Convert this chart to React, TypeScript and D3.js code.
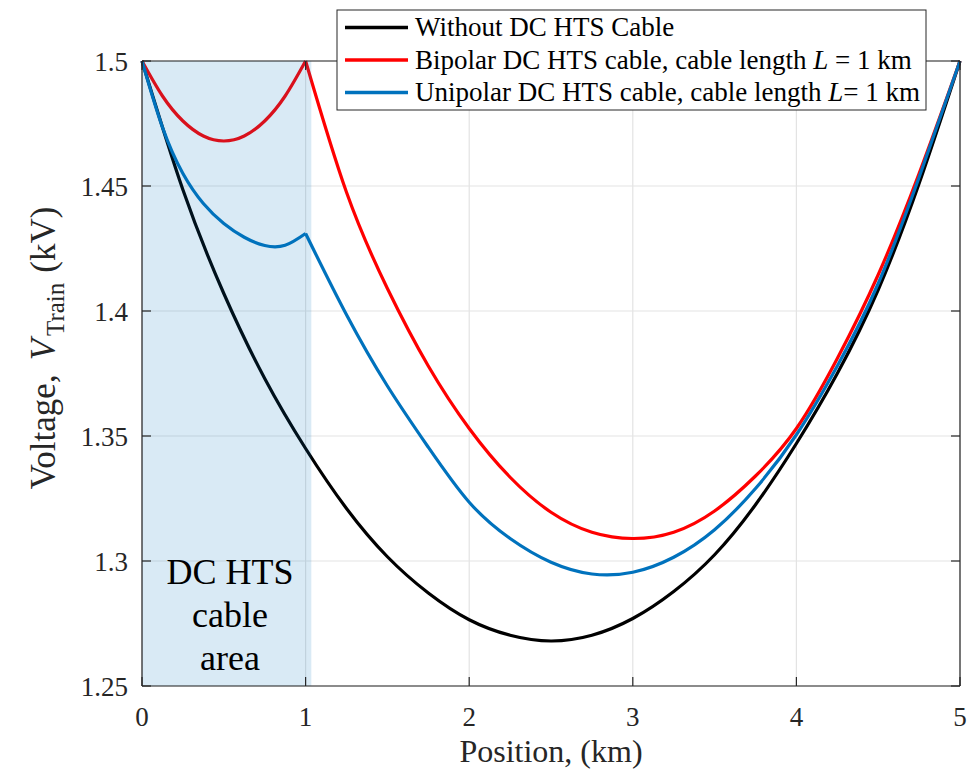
import React from "react";
import * as d3 from "d3";

const xTicks = [0, 1, 2, 3, 4, 5];
const yTicks = [1.25, 1.3, 1.35, 1.4, 1.45, 1.5];
const yTickLabels = ["1.25", "1.3", "1.35", "1.4", "1.45", "1.5"];

// Without DC HTS cable
const blackX = [0, 0.25, 0.5, 0.75, 1.0, 1.25, 1.5, 1.75, 2.0, 2.25, 2.5, 2.75, 3.0, 3.25, 3.5, 3.75, 4.0, 4.25, 4.5, 4.75, 5.0];
const blackY = [1.5, 1.4485, 1.407, 1.373, 1.345, 1.321, 1.3017, 1.2872, 1.2765, 1.2703, 1.268, 1.2703, 1.277, 1.2878, 1.3025, 1.3225, 1.347, 1.375, 1.4085, 1.451, 1.5];

// Bipolar, inside cable area (0-1 km) and outside (1-5 km)
const redInX = [0, 0.125, 0.25, 0.375, 0.5, 0.625, 0.75, 0.875, 1.0];
const redInY = [1.5, 1.486, 1.476, 1.47, 1.468, 1.47, 1.476, 1.486, 1.5];
const redOutX = [1.0, 1.25, 1.5, 1.75, 2.0, 2.25, 2.5, 2.75, 3.0, 3.25, 3.5, 3.75, 4.0, 4.25, 4.5, 4.75, 5.0];
const redOutY = [1.5, 1.4475, 1.409, 1.378, 1.353, 1.3335, 1.3195, 1.3115, 1.309, 1.3115, 1.32, 1.334, 1.353, 1.381, 1.4145, 1.455, 1.5];

// Unipolar
const blueInX = [0, 0.125, 0.25, 0.375, 0.5, 0.625, 0.75, 0.875, 1.0];
const blueInY = [1.5, 1.4735, 1.455, 1.443, 1.435, 1.4295, 1.4262, 1.4263, 1.431];
const blueOutX = [1.0, 1.25, 1.5, 1.75, 2.0, 2.25, 2.5, 2.75, 3.0, 3.25, 3.5, 3.75, 4.0, 4.25, 4.5, 4.75, 5.0];
const blueOutY = [1.431, 1.3985, 1.37, 1.3455, 1.3235, 1.309, 1.2995, 1.2948, 1.2955, 1.3015, 1.3125, 1.329, 1.3505, 1.378, 1.411, 1.4535, 1.5];

const cableArea = [0, 1.035];

const legendLabels = ["Without DC HTS Cable", "Bipolar DC HTS cable, cable length ", "Unipolar DC HTS cable, cable length "];
const legendSuffix = ["", " = 1 km", "= 1 km"];
const colors = ["#000000", "#FF0000", "#0072BD"];

const W = 967, H = 769;
const M = { left: 142, right: 960, top: 61, bottom: 686 };
const FONT = '"Liberation Serif", "Times New Roman", Tinos, "DejaVu Serif", serif';

export default function App() {
  const x = d3.scaleLinear().domain([0, 5]).range([M.left, M.right]);
  const y = d3.scaleLinear().domain([1.25, 1.5]).range([M.bottom, M.top]);
  const line = d3
    .line<number[]>()
    .x((d) => x(d[0]))
    .y((d) => y(d[1]))
    .curve(d3.curveNatural);
  const zip = (xs: number[], ys: number[]) => xs.map((v, i) => [v, ys[i]]);

  const series = [
    { segs: [zip(blackX, blackY)], color: colors[0] },
    { segs: [zip(redInX, redInY), zip(redOutX, redOutY)], color: colors[1] },
    { segs: [zip(blueInX, blueInY), zip(blueOutX, blueOutY)], color: colors[2] },
  ];

  const tick = 9;
  const axisColor = "#262626";
  const txt = { fontFamily: FONT };

  return (
    <svg width={W} height={H} style={{ position: "absolute", left: 0, top: 0, background: "#fff", fontFamily: FONT }}>
      <rect x={0} y={0} width={W} height={H} fill="#fff" />
      {/* grid */}
      {xTicks.map((t) => (
        <line key={"gx" + t} x1={x(t)} x2={x(t)} y1={M.top} y2={M.bottom} stroke="#e3e3e3" strokeWidth={1.2} />
      ))}
      {yTicks.map((t) => (
        <line key={"gy" + t} x1={M.left} x2={M.right} y1={y(t)} y2={y(t)} stroke="#e3e3e3" strokeWidth={1.2} />
      ))}
      {/* curves */}
      {series.map((s, i) =>
        s.segs.map((seg, j) => (
          <path key={i + "-" + j} d={line(seg) || ""} fill="none" stroke={s.color} strokeWidth={3.2} strokeLinejoin="miter" />
        ))
      )}
      {/* cable area patch */}
      <rect
        x={x(cableArea[0])}
        y={M.top}
        width={x(cableArea[1]) - x(cableArea[0])}
        height={M.bottom - M.top}
        fill="#0072BD"
        fillOpacity={0.15}
      />
      {/* axes box */}
      <line x1={M.left} x2={M.right} y1={M.bottom} y2={M.bottom} stroke={axisColor} strokeWidth={1.2} />
      <line x1={M.left} x2={M.left} y1={M.top} y2={M.bottom} stroke={axisColor} strokeWidth={1.2} />
      <line x1={M.left} x2={M.right} y1={M.top} y2={M.top} stroke={axisColor} strokeWidth={1.2} />
      <line x1={M.right} x2={M.right} y1={M.top} y2={M.bottom} stroke={axisColor} strokeWidth={1.2} />
      {xTicks.map((t) => (
        <g key={"xt" + t}>
          <line x1={x(t)} x2={x(t)} y1={M.bottom} y2={M.bottom - tick} stroke={axisColor} strokeWidth={1.2} />
          <line x1={x(t)} x2={x(t)} y1={M.top} y2={M.top + tick} stroke={axisColor} strokeWidth={1.2} />
          <text x={x(t)} y={M.bottom + 40} textAnchor="middle" fontSize={27} fill={axisColor} style={txt}>
            {t}
          </text>
        </g>
      ))}
      {yTicks.map((t, i) => (
        <g key={"yt" + t}>
          <line x1={M.left} x2={M.left + tick} y1={y(t)} y2={y(t)} stroke={axisColor} strokeWidth={1.2} />
          <line x1={M.right} x2={M.right - tick} y1={y(t)} y2={y(t)} stroke={axisColor} strokeWidth={1.2} />
          <text x={M.left - 14} y={y(t) + 9.5} textAnchor="end" fontSize={27} fill={axisColor} style={txt}>
            {yTickLabels[i]}
          </text>
        </g>
      ))}
      {/* axis labels */}
      <text x={(M.left + M.right) / 2} y={762} textAnchor="middle" fontSize={32} fill={axisColor} style={txt}>
        Position, (km)
      </text>
      <text transform={`translate(55, 348) rotate(-90)`} textAnchor="middle" fontSize={35} fill={axisColor} style={txt}>
        Voltage,
        <tspan dx={14} fontStyle="italic">V</tspan>
        <tspan fontSize={25} dx={3} dy={9}>Train</tspan>
        <tspan dx={10} dy={-9}>(kV)</tspan>
      </text>
      {/* area text */}
      <g fontSize={36} fill="#000" textAnchor="middle" style={txt}>
        <text x={230} y={584}>DC HTS</text>
        <text x={230} y={627}>cable</text>
        <text x={230} y={670}>area</text>
      </g>
      {/* legend */}
      <rect x={337} y={10} width={589} height={100} fill="#fff" stroke="#262626" strokeWidth={1} />
      {legendLabels.map((lab, i) => {
        const ly = 27.5 + i * 32.5;
        return (
          <g key={"lg" + i}>
            <line x1={345} x2={408} y1={ly} y2={ly} stroke={colors[i]} strokeWidth={3.5} />
            <text x={415} y={ly + 8.5} fontSize={27} fill="#000" style={txt}>
              {lab}
              {i > 0 ? <tspan fontStyle="italic">L</tspan> : null}
              {legendSuffix[i]}
            </text>
          </g>
        );
      })}
    </svg>
  );
}
